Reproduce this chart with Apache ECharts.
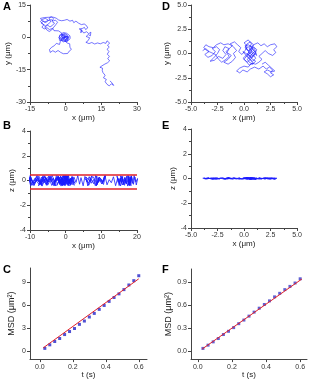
<!DOCTYPE html>
<html>
<head>
<meta charset="utf-8">
<script src="https://cdn.jsdelivr.net/npm/echarts@6/dist/echarts.min.js"></script>
<style>
html, body { margin: 0; padding: 0; background: #fff; }
#main { width: 315px; height: 380px; }
</style>
</head>
<body>
<div id="main"></div>
<script>
// ---- data ----
// A: lateral trajectory, x / y in um
var trackA = [
  // central cluster
  [-1.0,0.2],[-0.2,1.1],[0.5,0.3],[-0.6,-0.5],[-1.8,0.4],[-2.5,-0.6],[-1.4,-1.3],[-0.3,-0.8],[0.8,-1.5],[1.2,-0.4],
  [0.3,0.8],[-0.9,1.6],[-2.0,1.0],[-2.9,0.1],[-2.1,-1.0],[-1.0,-2.1],[0.1,-1.6],[0.9,-0.6],[0.2,0.4],[-0.7,-0.2],
  [-1.5,0.9],[-0.4,1.8],[0.6,1.2],[1.0,0.1],[0.0,-0.9],[-1.2,-0.4],[-2.2,-1.8],[-1.4,-2.6],
  // loop below
  [-2.6,-3.3],[-3.9,-2.8],[-4.8,-3.9],[-5.9,-4.6],[-6.8,-5.7],[-7.6,-6.4],[-6.5,-7.0],[-5.4,-6.2],[-4.3,-6.9],[-3.2,-6.1],
  [-2.1,-7.0],[-1.0,-7.6],[-0.2,-8.4],[0.8,-7.5],[1.5,-6.4],[2.4,-5.6],[1.8,-4.6],[2.6,-3.7],[1.7,-3.0],[0.6,-2.6],
  // back to the cluster
  [-0.3,-1.7],[0.4,-0.7],[1.5,0.2],[0.7,1.0],[-0.5,0.6],[-1.3,1.5],
  [-1.8,1.2],[-1.1,0.5],[-0.4,0.9],[0.2,0.1],[-0.5,-0.3],[-1.2,0.1],[-1.9,-0.5],[-1.3,-1.0],[-0.6,-1.4],[0.1,-1.1],
  [0.7,-1.9],[1.4,-1.2],[1.9,-0.6],[1.3,0.0],[1.8,0.7],[1.1,1.3],[0.4,1.9],[-0.3,1.4],[-1.0,2.2],[-1.7,1.6],
  [-2.5,1.1],[-3.2,0.5],[-2.7,-0.2],[-3.3,-1.0],[-2.6,-1.4],[-1.8,-1.1],[-1.1,-1.6],[-0.5,-2.3],[0.3,-2.0],[1.0,-1.0],
  [0.5,-0.4],[-0.2,0.2],[-0.9,-0.7],[-1.6,-0.1],[-2.2,0.6],[-1.6,1.9],[-2.4,2.0],[-3.0,3.0],
  // upper-left cluster
  [-3.8,3.8],[-4.9,3.1],[-5.5,4.2],[-6.8,3.6],[-7.9,4.5],[-9.0,3.9],[-10.0,4.7],[-9.2,5.8],[-10.3,6.6],[-9.4,7.5],
  [-8.2,6.9],[-7.3,8.0],[-8.6,8.8],[-9.8,8.3],[-10.6,7.3],[-9.6,6.2],[-8.5,5.3],[-7.4,6.1],[-6.3,7.2],[-7.0,8.9],
  [-6.0,9.6],[-5.1,8.6],[-5.8,7.4],[-4.7,6.6],[-5.6,5.5],[-6.6,4.8],[-7.5,5.6],[-8.8,4.9],[-8.0,3.5],[-6.9,2.7],
  [-5.9,3.4],[-5.0,4.7],[-4.2,5.8],[-3.4,7.0],[-4.3,8.0],
  [-5.2,7.6],[-6.1,8.2],[-6.8,7.3],[-7.8,7.6],[-8.9,7.0],[-9.9,7.8],[-10.6,8.8],[-9.8,9.5],[-8.8,9.2],[-8.0,9.8],
  [-7.1,9.3],[-6.3,9.8],[-5.4,9.4],[-4.6,9.0],[-4.0,8.9],
  // along the top
  [-3.5,8.6],[-2.9,8.0],[-2.3,8.5],[-1.7,7.7],[-1.2,7.2],[-0.6,7.9],[0.0,7.6],[0.6,8.3],[1.2,8.1],[1.8,7.5],
  [2.3,7.4],[2.9,7.9],[3.4,6.8],[3.9,7.2],[4.3,7.5],[4.9,7.0],[5.4,6.6],[6.0,6.9],[6.6,5.9],[7.2,6.5],
  [7.8,6.2],[8.3,6.8],[8.7,5.5],[9.2,5.0],[9.3,4.4],[8.8,4.0],[8.4,3.6],
  // cluster near (8, 2)
  [7.9,4.6],[7.0,4.1],[6.2,4.8],[5.7,3.9],[6.8,3.2],
  [7.3,2.8],[6.4,2.1],[5.6,2.9],[6.5,3.6],[7.6,2.0],[8.8,2.6],[9.7,1.7],[10.6,2.4],[11.2,1.5],[10.4,0.7],
  [9.5,1.3],[8.6,0.4],[9.3,-0.5],[10.1,-0.2],[10.9,0.6],[10.5,-1.1],[9.4,-1.6],[8.5,-2.3],
  // right and down
  [9.8,-2.9],[10.4,-2.2],[11.0,-2.4],[11.6,-3.3],[12.2,-3.1],[12.8,-2.5],[13.4,-2.6],[14.0,-3.3],[14.6,-3.0],[15.2,-2.2],
  [15.8,-2.4],[16.3,-3.1],[16.9,-2.8],[17.4,-1.6],[17.8,-1.9],[18.2,-1.3],[18.5,-2.7],[18.0,-3.2],[17.6,-3.6],[18.0,-4.1],
  [18.3,-4.6],[17.8,-5.0],[17.4,-5.5],[17.9,-6.1],[18.2,-6.6],[17.7,-7.2],[17.5,-7.8],[18.1,-8.3],[18.4,-8.8],[17.9,-9.4],
  [17.7,-9.9],[18.3,-10.4],[18.5,-10.9],[18.0,-11.3],[17.6,-11.8],[17.0,-12.0],[16.5,-12.4],[15.9,-12.7],[15.3,-13.2],[14.7,-13.4],
  [14.4,-13.9],[15.0,-13.8],[15.5,-14.3],[15.1,-14.7],[14.8,-15.2],[15.4,-15.4],[16.0,-15.8],[15.7,-16.4],[15.4,-16.9],[16.0,-17.1],
  [16.6,-17.6],[16.2,-18.2],[15.9,-18.8],[16.5,-19.0],[17.1,-19.5],[16.8,-20.1],[16.6,-20.6],[17.0,-21.2],[17.4,-21.8],[17.9,-22.0],
  [18.3,-22.5],[18.8,-22.1],[19.2,-21.6],[19.7,-22.0],[20.2,-22.3],[19.8,-21.6],[19.4,-21.0],[19.0,-20.6],[18.6,-20.2]
];
// B: axial position z (um) for the same steps as trackA
var zB = [
  0.21,-0.35,0.38,-0.12,0.05,-0.41,0.29,-0.22,0.40,-0.30,
  0.12,-0.44,0.33,-0.05,0.25,-0.38,0.41,-0.18,0.08,-0.33,
  0.36,-0.27,0.19,-0.42,0.30,-0.09,0.39,-0.25,0.15,-0.40,
  0.34,-0.16,0.27,-0.43,0.06,-0.30,0.37,-0.20,0.23,-0.36,
  0.40,-0.11,0.18,-0.39,0.31,-0.24,0.10,-0.34,0.35,-0.28,
  0.20,-0.43,0.38,-0.14,0.26,-0.37,0.02,-0.31,0.41,-0.19,
  0.13,-0.45,0.29,-0.08,0.36,-0.26,0.22,-0.40,0.32,-0.13,
  0.39,-0.33,0.07,-0.21,0.28,-0.42,0.17,-0.29,0.40,-0.06,
  0.24,-0.38,0.34,-0.15,0.11,-0.44,0.37,-0.23,0.30,-0.35,
  0.16,-0.10,0.41,-0.32,0.21,-0.41,0.04,-0.27,0.38,-0.17,
  0.27,-0.39,0.33,-0.07,0.19,-0.43,0.36,-0.22,0.09,-0.34,
  0.40,-0.26,0.14,-0.38,0.31,-0.12,0.25,-0.45,0.35,-0.20,
  0.06,-0.31,0.39,-0.18,0.28,-0.40,0.17,-0.03,0.32,-0.36,
  0.22,-0.42,0.37,-0.25,0.12,-0.33,0.41,-0.14,0.26,-0.39,
  0.34,-0.09,0.20,-0.44,0.30,-0.28,0.15,-0.37,0.38,-0.21,
  0.10,-0.35,0.29,-0.16,0.40,-0.30,0.23,-0.43,0.33,-0.11,
  0.31,-0.22,0.08,-0.41,0.36,-0.13,0.24,-0.34,0.40,-0.27,
  0.15,-0.44,0.28,-0.05,0.37,-0.19,0.11,-0.38,0.33,-0.24,
  0.03,-0.32,0.39,-0.15,0.26,-0.43,0.19,-0.28,0.35,-0.08,
  0.27,-0.40,0.13,-0.23,0.41,-0.35,0.07,-0.18,0.30,-0.42,
  0.22,-0.10,0.36,-0.29,0.16,-0.45,0.32,-0.20,0.38,-0.33,
  0.09,-0.26,0.25,-0.39,0.40,-0.12,0.18,-0.37,0.29,-0.04,
  0.34,-0.31,0.12,-0.43,0.27,-0.17,0.39,-0.25,0.05,-0.36,
  0.20,-0.14,0.37,-0.41,0.23,-0.30,0.14,-0.44,0.31,-0.21,
  0.38,-0.07,0.26,-0.34,0.10,-0.39,0.35,-0.16,0.21,-0.28,
  0.01,-0.42,0.33,-0.23,0.40,-0.11,0.17,-0.36,0.28,-0.31,
  0.25,-0.19,0.36,-0.40,0.13,-0.27,0.30,-0.09,0.39,-0.35
];
var limitsB = [0.5, -0.65];   // red boundary lines in B

// D: second trajectory, x / y in um
var trackD = [
  [-3.9,0.3],[-3.6,0.5],[-3.3,0.2],[-3.7,-0.1],[-3.4,-0.4],[-3.0,-0.2],[-2.7,0.2],[-3.0,0.5],[-2.6,0.7],[-2.3,0.4],
  [-2.5,0.0],[-2.9,-0.5],[-3.2,-0.8],[-2.8,-0.7],[-2.4,-0.3],[-2.0,-0.5],[-1.7,-0.1],[-2.0,0.3],[-1.8,0.7],[-1.4,0.5],
  [-1.1,0.8],[-1.5,1.0],[-1.9,0.9],[-2.2,1.1],[-2.6,0.9],[-2.9,0.6],[-3.3,0.7],[-3.6,0.9],[-3.8,0.6],[-3.5,0.3],
  [-3.1,0.1],[-2.7,-0.1],[-2.4,-0.6],[-2.1,-0.9],[-1.7,-0.6],[-1.4,-0.3],[-1.7,0.2],[-1.4,0.5],
  [-1.6,0.1],[-1.2,-0.2],[-1.5,-0.6],[-1.9,-0.9],[-1.5,-1.1],[-1.1,-0.8],[-0.8,-0.4],[-1.0,0.0],[-0.7,0.3],[-1.0,0.7],
  [-1.3,1.0],[-0.9,1.2],[-0.6,0.9],[-0.3,0.6],[-0.5,0.2],[-0.2,-0.1],[0.1,0.3],[0.3,0.8],[0.0,1.1],[0.4,1.4],
  [0.7,1.0],[0.5,0.5],[0.8,0.2],[0.4,-0.1],[0.7,-0.4],[1.0,-0.1],[1.2,0.4],[0.9,0.7],[0.6,0.1],[0.3,-0.3],
  [0.6,-0.7],[0.9,-1.0],[0.5,-1.2],[0.2,-0.8],[-0.1,-0.5],[0.2,-0.2],[0.5,0.2],[0.2,0.5],[0.6,0.8],[0.9,0.4],
  [1.1,0.0],[0.8,-0.3],[0.5,-0.5],[0.8,-0.8],[1.1,-0.5],[0.9,-0.1],[0.6,0.3],[0.9,0.9],
  [0.6,1.2],[0.3,1.0],[0.1,0.6],[0.4,0.3],[0.7,0.5],[1.0,0.2],[0.7,-0.1],[0.4,-0.4],[0.1,-0.1],[-0.1,0.2],
  [0.2,0.0],[0.5,-0.2],[0.8,-0.6],[1.1,-0.8],[0.8,-1.1],[0.5,-0.9],[0.3,-0.6],[0.6,-0.3],[0.9,0.1],[1.2,-0.2],
  [1.0,0.5],[0.7,0.7],[0.4,0.9],[0.1,0.8],[0.3,0.4],[0.6,0.0],[0.9,-0.3],[0.6,-0.6],[0.3,-0.9],[0.0,-0.6],
  [0.3,-0.2],[0.6,0.5],[0.9,0.9],[1.3,1.1],
  [1.6,0.8],[1.9,1.0],[2.2,0.7],[2.5,0.9],[2.9,1.0],[3.1,0.7],[2.8,0.4],[3.0,0.1],[2.7,-0.2],[2.3,0.0],
  [2.0,0.3],[1.7,0.0],[1.4,-0.3],[1.7,-0.6],[1.4,-0.9],[1.1,-1.1],[0.7,-1.0],
  [0.4,-1.4],[0.0,-1.3],[-0.4,-1.5],[-0.7,-1.8],[-0.4,-2.0],[-0.1,-1.7],[0.3,-1.9],[0.6,-1.6],
  [1.0,-1.4],[1.4,-1.6],[1.8,-1.3],[2.1,-1.6],[2.4,-1.4],[2.7,-1.7],[2.5,-2.0],[2.8,-2.2],[2.5,-2.4],[2.2,-2.1],
  [1.9,-1.9],[2.2,-1.7],[2.6,-1.9],[2.9,-1.8],[2.6,-1.5],[2.3,-1.2],[2.0,-0.9],[1.7,-1.1]
];
// E: axial position z (um) for the same steps as trackD
var zE = [
  0.02,-0.03,0.05,-0.01,0.04,-0.05,0.01,-0.02,0.06,-0.04,
  0.03,-0.06,0.00,0.04,-0.02,0.05,-0.03,0.01,-0.05,0.03,
  -0.01,0.06,-0.04,0.02,-0.06,0.04,0.00,-0.03,0.05,-0.02,
  0.03,-0.05,0.01,0.04,-0.04,0.02,-0.01,0.06,-0.03,0.00,
  0.05,-0.02,0.03,-0.06,0.01,0.04,-0.04,0.02,-0.01,0.05,
  -0.03,0.00,0.06,-0.05,0.02,-0.02,0.04,-0.01,0.03,-0.04,
  0.01,0.05,-0.06,0.02,-0.03,0.04,0.00,-0.02,0.06,-0.05,
  0.03,-0.01,0.04,-0.04,0.02,0.05,-0.03,0.01,-0.06,0.03,
  -0.02,0.04,-0.05,0.00,0.06,-0.03,0.02,-0.04,0.01,0.05,
  -0.01,0.03,-0.06,0.04,-0.02,0.00,0.05,-0.04,0.02,-0.03,
  0.06,-0.01,0.03,-0.05,0.01,0.04,-0.02,0.00,-0.04,0.02,
  0.05,-0.03,0.02,-0.05,0.04,0.00,-0.02,0.06,-0.04,0.01,
  -0.03,0.05,-0.01,0.03,-0.06,0.02,0.04,-0.02,0.00,0.05,
  -0.04,0.01,0.06,-0.03,0.02,-0.05,0.03,-0.01,0.04,-0.06,
  0.02,0.00,-0.04,0.05,-0.02,0.03,-0.05,0.01,0.06,-0.03,
  0.04,-0.01,0.02,-0.06,0.05,-0.02,0.00,0.03,-0.04,0.01,
  -0.05,0.04,-0.02,0.06,-0.03,0.02,-0.01,0.05,-0.04,0.03
];

// C / F: mean square displacement vs lag time
var lagT = [0.03,0.06,0.09,0.12,0.15,0.18,0.21,0.24,0.27,0.30,0.33,0.36,0.39,0.42,0.45,0.48,0.51,0.54,0.57,0.60];
var msdC = [0.39,0.85,1.28,1.67,2.18,2.57,2.96,3.50,3.93,4.45,4.92,5.44,5.95,6.47,6.98,7.45,8.00,8.60,9.16,9.80];
var msdF = [0.039,0.081,0.124,0.167,0.219,0.261,0.309,0.360,0.407,0.458,0.510,0.561,0.609,0.656,0.708,0.754,0.802,0.844,0.888,0.943];
var fitTC = [0.02, 0.60], fitC = [0.45, 9.40];
var fitTF = [0.025, 0.61], fitF = [0.03, 0.94];

var ticksT = [0, 0.2, 0.4, 0.6];
var ticksC = [0, 3, 6, 9];
var ticksF = [0, 0.3, 0.6, 0.9];

// ---- chart ----
var font = 'Liberation Sans, Arial, sans-serif';
var axisCol = '#444';
var blue = '#1a1aff';
var red = '#e0202a';

function oneDec(v) { return v.toFixed(1); }

function valAxis(grid, min, max, interval, name, gap, fmt) {
  var ax = {
    type: 'value',
    gridIndex: grid,
    min: min,
    max: max,
    name: name,
    nameLocation: 'middle',
    nameGap: gap,
    nameTextStyle: { fontSize: 8, color: '#222', fontFamily: font },
    axisLine: { show: true, onZero: false, lineStyle: { color: axisCol, width: 1 } },
    axisTick: { show: true, length: 3, lineStyle: { color: axisCol } },
    minorTick: { show: true, splitNumber: 2, length: 2, lineStyle: { color: axisCol } },
    axisLabel: { fontSize: 7, color: '#333', margin: 4, fontFamily: font },
    splitLine: { show: false }
  };
  if (interval) ax.interval = interval;
  if (fmt) ax.axisLabel.formatter = fmt;
  return ax;
}

function custom(ax, vals) {
  ax.axisLabel.customValues = vals;
  ax.axisTick.customValues = vals;
  ax.minorTick.show = false;
  return ax;
}

var xAxes = [
  valAxis(0, -15, 30, 15, 'x (\u03bcm)', 11),
  valAxis(1, -5, 5, 2.5, 'x (\u03bcm)', 11, oneDec),
  valAxis(2, -10, 20, 10, 'x (\u03bcm)', 11),
  valAxis(3, -5, 5, 2.5, 'x (\u03bcm)', 11, oneDec),
  custom(valAxis(4, -0.06, 0.65, null, 't (s)', 9, oneDec), ticksT),
  custom(valAxis(5, -0.04, 0.64, null, 't (s)', 9, oneDec), ticksT)
];
var yAxes = [
  valAxis(0, -30, 15, 15, 'y (\u03bcm)', 16),
  valAxis(1, -5, 5, 2.5, 'y (\u03bcm)', 20, oneDec),
  valAxis(2, -4, 4, 2, 'z (\u03bcm)', 14),
  valAxis(3, -4, 4, 2, 'z (\u03bcm)', 14),
  custom(valAxis(4, -1, 10.8, null, 'MSD (\u03bcm\u00b2)', 14), ticksC),
  custom(valAxis(5, -0.1, 1.07, null, 'MSD (\u03bcm\u00b2)', 18, oneDec), ticksF)
];
yAxes[4].nameTextStyle.fontSize = 9;
yAxes[5].nameTextStyle.fontSize = 9;

function traj(i, pts, w) {
  return {
    type: 'line', xAxisIndex: i, yAxisIndex: i, data: pts,
    showSymbol: false, silent: true,
    lineStyle: { color: blue, width: w }
  };
}

var dataB = trackA.map(function (p, i) { return [p[0], zB[i]]; });
var dataE = trackD.map(function (p, i) { return [p[0], zE[i]]; });
var ptsC = lagT.map(function (t, i) { return [t, msdC[i]]; });
var ptsF = lagT.map(function (t, i) { return [t, msdF[i]]; });

var seriesB = traj(2, dataB, 0.8);
seriesB.markLine = {
  silent: true, symbol: 'none', label: { show: false },
  lineStyle: { color: red, width: 1.5, type: 'solid' },
  data: limitsB.map(function (z) { return { yAxis: z }; })
};

var series = [
  traj(0, trackA, 0.6),
  traj(1, trackD, 0.6),
  seriesB,
  traj(3, dataE, 0.8),
  { type: 'scatter', xAxisIndex: 4, yAxisIndex: 4, data: ptsC, symbol: 'rect', symbolSize: 3, itemStyle: { color: '#2424c8' } },
  { type: 'line', xAxisIndex: 4, yAxisIndex: 4, data: [[fitTC[0], fitC[0]], [fitTC[1], fitC[1]]], showSymbol: false, lineStyle: { color: red, width: 1 } },
  { type: 'scatter', xAxisIndex: 5, yAxisIndex: 5, data: ptsF, symbol: 'rect', symbolSize: 3, itemStyle: { color: '#3a3ac8' } },
  { type: 'line', xAxisIndex: 5, yAxisIndex: 5, data: [[fitTF[0], fitF[0]], [fitTF[1], fitF[1]]], showSymbol: false, lineStyle: { color: red, width: 1 } }
];

function letter(t, x, y) {
  return { type: 'text', left: x, top: y, style: { text: t, font: 'bold 11px ' + font, fill: '#000' } };
}

var myChart = echarts.init(document.getElementById('main'));
myChart.setOption({
  animation: false,
  backgroundColor: '#fff',
  grid: [
    { left: 30, top: 5, width: 107, height: 97 },
    { left: 191, top: 5, width: 106, height: 97 },
    { left: 30, top: 131, width: 107, height: 99 },
    { left: 191, top: 129, width: 106, height: 99 },
    { left: 30, top: 268, width: 117, height: 92 },
    { left: 191, top: 269, width: 116, height: 91 }
  ],
  xAxis: xAxes,
  yAxis: yAxes,
  series: series,
  graphic: [
    letter('A', 3, 1), letter('D', 162, 1),
    letter('B', 3, 120), letter('E', 162, 120),
    letter('C', 3, 264), letter('F', 162, 264)
  ]
});
</script>
</body>
</html>
